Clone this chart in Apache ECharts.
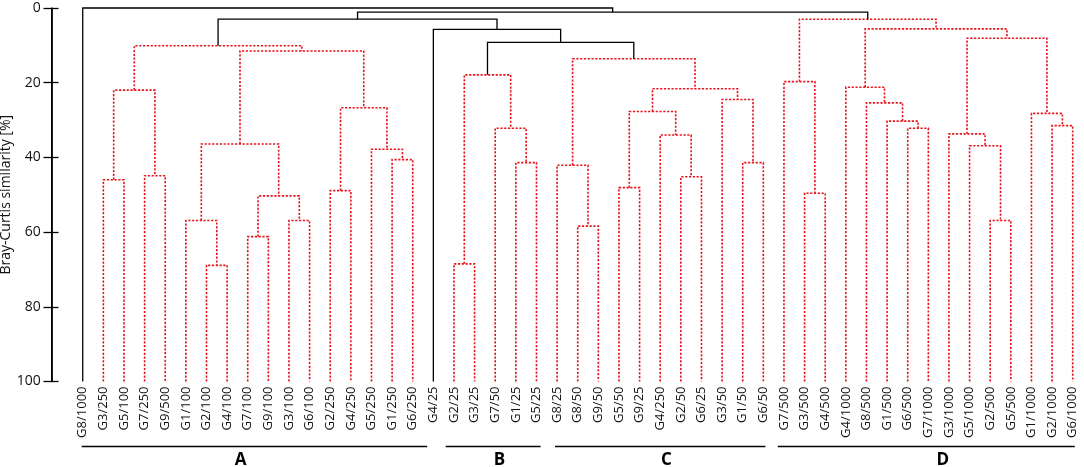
<!DOCTYPE html>
<html>
<head>
<meta charset="utf-8">
<style>
    html, body { margin: 0; padding: 0; background: #fff; }
    #chart { width: 1084px; height: 467px; }
</style>
</head>
<body>
<div id="chart"></div>
<script src="https://cdn.jsdelivr.net/npm/echarts@6.0.0/dist/echarts.min.js"></script>
<script>
    // leaf order along the x axis (G4/250 really appears twice in the figure)
    var leaves = [
        'G8/1000', 'G3/250', 'G5/100', 'G7/250', 'G9/500', 'G1/100', 'G2/100', 'G4/100',
        'G7/100', 'G9/100', 'G3/100', 'G6/100', 'G2/250', 'G4/250', 'G5/250', 'G1/250',
        'G6/250', 'G4/25', 'G2/25', 'G3/25', 'G7/50', 'G1/25', 'G5/25', 'G8/25',
        'G8/50', 'G9/50', 'G5/50', 'G9/25', 'G4/250', 'G2/50', 'G6/25', 'G3/50',
        'G1/50', 'G6/50', 'G7/500', 'G3/500', 'G4/500', 'G4/1000', 'G8/500', 'G1/500',
        'G6/500', 'G7/1000', 'G3/1000', 'G5/1000', 'G2/500', 'G5/500', 'G1/1000', 'G2/1000',
        'G6/1000'
    ];

    // merges inside the clusters (red dotted): [node, left, right, similarity %]
    // a number is a leaf position in `leaves`, a string is an earlier node
    var clusterMerges = [
        ['a1', 1, 2, 46.0],
        ['a2', 3, 4, 44.9],
        ['a3', 'a1', 'a2', 22.0],
        ['a4', 6, 7, 68.9],
        ['a5', 5, 'a4', 56.9],
        ['a6', 8, 9, 61.2],
        ['a7', 10, 11, 56.9],
        ['a8', 'a6', 'a7', 50.3],
        ['a9', 'a5', 'a8', 36.4],
        ['a10', 12, 13, 48.9],
        ['a11', 15, 16, 40.6],
        ['a12', 14, 'a11', 37.8],
        ['a13', 'a10', 'a12', 26.7],
        ['a14', 'a9', 'a13', 11.5],
        ['A', 'a3', 'a14', 10.1],

        ['b1', 18, 19, 68.5],
        ['b2', 21, 22, 41.4],
        ['b3', 20, 'b2', 32.2],
        ['B', 'b1', 'b3', 17.9],

        ['c1', 24, 25, 58.4],
        ['c2', 23, 'c1', 42.1],
        ['c3', 26, 27, 48.1],
        ['c4', 29, 30, 45.2],
        ['c5', 28, 'c4', 34.0],
        ['c6', 'c3', 'c5', 27.7],
        ['c7', 32, 33, 41.4],
        ['c8', 31, 'c7', 24.5],
        ['c9', 'c6', 'c8', 21.6],
        ['C', 'c2', 'c9', 13.6],

        ['d1', 35, 36, 49.6],
        ['d2', 34, 'd1', 19.7],
        ['d3', 40, 41, 32.2],
        ['d4', 39, 'd3', 30.3],
        ['d5', 38, 'd4', 25.4],
        ['d6', 37, 'd5', 21.2],
        ['d7', 44, 45, 56.9],
        ['d8', 43, 'd7', 36.9],
        ['d9', 42, 'd8', 33.7],
        ['d10', 47, 48, 31.5],
        ['d11', 46, 'd10', 28.2],
        ['d12', 'd9', 'd11', 8.1],
        ['d13', 'd6', 'd12', 5.6],
        ['D', 'd2', 'd13', 3.0]
    ];

    // upper merges (black solid)
    var upperMerges = [
        ['n1', 'B', 'C', 9.2],
        ['n2', 17, 'n1', 5.7],
        ['n3', 'A', 'n2', 3.0],
        ['n4', 'n3', 'D', 1.1],
        ['root', 0, 'n4', 0.0]
    ];

    var yTicks = [0, 20, 40, 60, 80, 100];

    // group brackets below the labels, in leaf-index units
    var groupNames = ['A', 'B', 'C', 'D'];
    var groupStart = [-0.05, 17.6, 22.9, 33.7];
    var groupEnd = [16.7, 22.2, 33.1, 48.1];
    var groupLabelAt = [7.66, 20.2, 28.3, 41.7];

    // the y axis stands a leaf and a half left of the first leaf
    var shift = 1.5;

    var nodeMap = {};
    clusterMerges.concat(upperMerges).forEach(function (m) {
        nodeMap[m[0]] = m;
    });

    function nodePos(id) {
        if (typeof id === 'number') return [id + shift, 100];
        var m = nodeMap[id];
        var l = nodePos(m[1]);
        var r = nodePos(m[2]);
        return [(l[0] + r[0]) / 2, m[3]];
    }

    function toLinks(list) {
        return list.map(function (m) {
            var l = nodePos(m[1]);
            var r = nodePos(m[2]);
            return [l[0], l[1], r[0], r[1], m[3]];
        });
    }

    function renderLink(style) {
        return function (params, api) {
            var h = api.value(4);
            var p1 = api.coord([api.value(0), api.value(1)]);
            var p2 = api.coord([api.value(0), h]);
            var p3 = api.coord([api.value(2), h]);
            var p4 = api.coord([api.value(2), api.value(3)]);
            return {
                type: 'polyline',
                shape: { points: [p1, p2, p3, p4] },
                style: style,
                silent: true
            };
        };
    }

    var groupData = groupNames.map(function (g, i) {
        return [groupStart[i] + shift, groupEnd[i] + shift, groupLabelAt[i] + shift];
    });

    var yMin = yTicks[0];
    var yMax = yTicks[yTicks.length - 1];

    var textFont = '"Open Sans", "Noto Sans", sans-serif';

    var myChart = echarts.init(document.getElementById('chart'));
    var option = {
        animation: false,
        grid: { left: 51.8, right: 11.3, top: 8, bottom: 85.5, outerBoundsMode: 'none', containLabel: false },
        xAxis: {
            type: 'value',
            min: 0,
            max: leaves.length - 1 + shift,
            interval: 0.5,
            splitLine: { show: false },
            axisLine: { show: false },
            axisTick: { show: false },
            axisLabel: {
                rotate: 90,
                margin: 5,
                showMinLabel: true,
                showMaxLabel: true,
                fontSize: 13,
                fontFamily: textFont,
                color: '#111',
                formatter: function (v) {
                    var i = v - shift;
                    return (Number.isInteger(i) && leaves[i]) || '';
                }
            }
        },
        yAxis: [
            {
                type: 'value',
                position: 'left',
                inverse: true,
                min: yMin,
                max: yMax,
                interval: 20,
                name: 'Bray-Curtis similarity [%]',
                nameLocation: 'middle',
                nameGap: 39,
                nameMoveOverlap: false,
                nameTextStyle: { fontSize: 14, fontFamily: textFont, color: '#111' },
                splitLine: { show: false },
                axisLine: { show: true, lineStyle: { color: '#000', width: 1.5 } },
                axisTick: { show: true, length: 8.3, lineStyle: { color: '#000', width: 1.3 } },
                axisLabel: {
                    margin: 11,
                    fontSize: 14,
                    fontFamily: textFont,
                    color: '#111',
                    formatter: function (v) { return yTicks.indexOf(v) >= 0 ? String(v) : ''; }
                }
            },
            {
                type: 'value',
                position: 'left',
                inverse: true,
                min: yMin,
                max: yMax,
                interval: 20,
                splitLine: { show: false },
                axisLine: { show: false },
                axisTick: { show: true, inside: true, length: 6.7, lineStyle: { color: '#000', width: 1.3 } },
                axisLabel: { show: false }
            }
        ],
        series: [
            {
                // y axis spine along x = 0, from the top tick to the bottom tick
                type: 'custom',
                name: 'spine',
                clip: false,
                z: 10,
                renderItem: renderLink({
                    stroke: '#000',
                    fill: null,
                    lineWidth: 1.5
                }),
                encode: { x: [0, 2], y: [1, 3, 4] },
                data: [[0, yMin, 0, yMax, yMin]]
            },
            {
                type: 'custom',
                name: 'clusters',
                renderItem: renderLink({
                    stroke: '#e8141c',
                    fill: null,
                    lineWidth: 1.6,
                    lineDash: [2.2, 1.6]
                }),
                encode: { x: [0, 2], y: [1, 3, 4] },
                data: toLinks(clusterMerges)
            },
            {
                type: 'custom',
                name: 'upper',
                renderItem: renderLink({
                    stroke: '#000',
                    fill: null,
                    lineWidth: 1.3
                }),
                encode: { x: [0, 2], y: [1, 3, 4] },
                data: toLinks(upperMerges)
            },
            {
                type: 'custom',
                name: 'groups',
                renderItem: function (params, api) {
                    var a = api.coord([api.value(0), 100]);
                    var b = api.coord([api.value(1), 100]);
                    var c = api.coord([api.value(2), 100]);
                    return {
                        type: 'group',
                        silent: true,
                        children: [
                            {
                                type: 'line',
                                shape: { x1: a[0], y1: a[1] + 65, x2: b[0], y2: b[1] + 65 },
                                style: { stroke: '#000', lineWidth: 1.5 }
                            },
                            {
                                type: 'text',
                                style: {
                                    text: groupNames[params.dataIndex],
                                    x: c[0],
                                    y: c[1] + 79,
                                    align: 'center',
                                    verticalAlign: 'middle',
                                    font: 'bold 17px ' + textFont,
                                    fill: '#000'
                                }
                            }
                        ]
                    };
                },
                encode: { x: [0, 1, 2] },
                data: groupData
            }
        ]
    };
    myChart.setOption(option);
</script>
</body>
</html>
